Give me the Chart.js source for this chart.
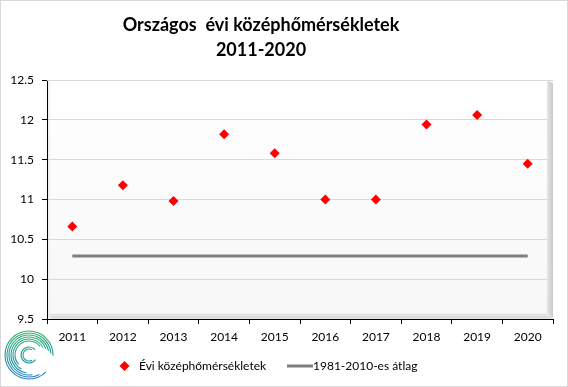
<!DOCTYPE html>
<html>
<head>
<meta charset="utf-8">
<script src="https://cdn.jsdelivr.net/npm/chart.js@4"></script>
<style>
  html, body { margin: 0; padding: 0; background: #fff; }
  canvas { display: block; }
</style>
</head>
<body>
<canvas id="tempChart" width="568" height="387"></canvas>
<script>
const years = ["2011", "2012", "2013", "2014", "2015", "2016", "2017", "2018", "2019", "2020"];
const annualMeans = [10.66, 11.18, 10.98, 11.82, 11.58, 11.0, 11.0, 11.94, 12.06, 11.45];
const normalMean = [10.29, 10.29, 10.29, 10.29, 10.29, 10.29, 10.29, 10.29, 10.29, 10.29];
const titleLines = ["Országos  évi középhőmérsékletek", "2011-2020"];
const seriesNames = ["Évi középhőmérsékletek", "1981-2010-es átlag"];

const FONT = "Lato, 'Open Sans', sans-serif";

// background, frame and the 3D wall behind the plot
const wallPlugin = {
  id: "wall",
  beforeDraw(chart) {
    const { ctx, chartArea: a } = chart;
    ctx.save();
    ctx.fillStyle = "#fff";
    ctx.fillRect(0, 0, chart.width, chart.height);
    ctx.strokeStyle = "#d9d9d9";
    ctx.lineWidth = 1;
    ctx.strokeRect(0.5, 0.5, chart.width - 1, chart.height - 1);

    const g = ctx.createLinearGradient(0, a.top, 0, a.bottom);
    g.addColorStop(0, "#ffffff");
    g.addColorStop(1, "#f7f7f7");
    ctx.fillStyle = g;
    ctx.fillRect(a.left, a.top, a.width, a.height);

    // soft shading along the left edge
    const gl = ctx.createLinearGradient(a.left, 0, a.left + 6, 0);
    gl.addColorStop(0, "#e4e4e4");
    gl.addColorStop(1, "rgba(255,255,255,0)");
    ctx.fillStyle = gl;
    ctx.fillRect(a.left, a.top, 6, a.height);
    ctx.restore();
  },
  beforeDatasetsDraw(chart) {
    const { ctx, chartArea: a } = chart;
    const d = 6;
    ctx.save();
    // right side
    const gr = ctx.createLinearGradient(a.right - d, 0, a.right, 0);
    gr.addColorStop(0, "#e6e6e6");
    gr.addColorStop(1, "#c9c9c9");
    ctx.fillStyle = gr;
    ctx.beginPath();
    ctx.moveTo(a.right - d, a.top);
    ctx.lineTo(a.right, a.top + 3);
    ctx.lineTo(a.right, a.bottom - 1);
    ctx.lineTo(a.right - d, a.bottom - d);
    ctx.closePath();
    ctx.fill();
    // floor
    const gb = ctx.createLinearGradient(0, a.bottom - d, 0, a.bottom);
    gb.addColorStop(0, "#efefef");
    gb.addColorStop(1, "#d2d2d2");
    ctx.fillStyle = gb;
    ctx.beginPath();
    ctx.moveTo(a.left + 1, a.bottom - d);
    ctx.lineTo(a.right - d, a.bottom - d);
    ctx.lineTo(a.right, a.bottom - 0.5);
    ctx.lineTo(a.left + 4, a.bottom - 0.5);
    ctx.closePath();
    ctx.fill();
    ctx.strokeStyle = "#d9d9d9";
    ctx.lineWidth = 1;
    ctx.beginPath();
    ctx.moveTo(a.left, a.top + 0.5);
    ctx.lineTo(a.right - d, a.top + 0.5);
    ctx.stroke();
    ctx.restore();
  },
  afterDraw(chart) {
    const ctx = chart.ctx;
    ctx.save();

    // title
    ctx.fillStyle = "#000";
    ctx.textAlign = "center";
    ctx.textBaseline = "middle";
    ctx.font = "bold 18px " + FONT;
    ctx.fillText(titleLines[0], 261, 25);
    ctx.fillText(titleLines[1], 261, 50);

    // legend
    ctx.font = "12px " + FONT;
    ctx.textAlign = "left";
    const ly = 366;
    const ds0 = chart.data.datasets[0];
    ctx.fillStyle = ds0.backgroundColor;
    ctx.beginPath();
    ctx.moveTo(124.5, ly - 5);
    ctx.lineTo(129.5, ly);
    ctx.lineTo(124.5, ly + 5);
    ctx.lineTo(119.5, ly);
    ctx.closePath();
    ctx.fill();
    ctx.fillStyle = "#000";
    ctx.fillText(ds0.label, 139, ly);

    const ds1 = chart.data.datasets[1];
    ctx.strokeStyle = ds1.borderColor;
    ctx.lineWidth = ds1.borderWidth;
    ctx.beginPath();
    ctx.moveTo(287, ly);
    ctx.lineTo(313, ly);
    ctx.stroke();
    ctx.fillText(ds1.label, 313, ly);

    // logo: a swirl of thin arcs
    const cx = 29, cy = 355;
    const lg = ctx.createLinearGradient(0, cy - 24, 0, cy + 24);
    lg.addColorStop(0, "#3bb46c");
    lg.addColorStop(0.5, "#1f9e98");
    lg.addColorStop(1, "#2a7fc4");
    ctx.strokeStyle = lg;
    ctx.lineWidth = 1.1;
    const arcs = [
      [24, 45, 362], [22, 62, 356], [20, 80, 348], [18, 98, 340],
      [16, 118, 332], [14, 138, 322], [8, 35, 320], [6, 60, 300]
    ];
    arcs.forEach(([r, s, e]) => {
      ctx.beginPath();
      ctx.arc(cx, cy, r, (s * Math.PI) / 180, (e * Math.PI) / 180);
      ctx.stroke();
    });
    ctx.restore();
  }
};

new Chart(document.getElementById("tempChart"), {
  type: "line",
  data: {
    labels: years,
    datasets: [
      {
        label: seriesNames[0],
        data: annualMeans,
        showLine: false,
        pointStyle: "rectRot",
        pointRadius: 5,
        pointHoverRadius: 5,
        backgroundColor: "#ff0000",
        borderColor: "#ff0000",
        pointBorderWidth: 0,
        order: 0,
      },
      {
        label: seriesNames[1],
        data: normalMean,
        borderColor: "#7f7f7f",
        borderWidth: 3,
        pointRadius: 0,
        fill: false,
        order: 1,
      },
    ],
  },
  options: {
    responsive: false,
    animation: false,
    layout: { padding: { top: 80, right: 15, bottom: 38, left: 0 } },
    plugins: {
      legend: { display: false },
      title: { display: false },
      tooltip: { enabled: false },
    },
    scales: {
      x: {
        offset: true,
        afterFit: (s) => { s.height = 30; },
        grid: { offset: true, drawOnChartArea: false, tickLength: 5, tickColor: "#000" },
        border: { color: "#000" },
        ticks: { color: "#000", font: { family: FONT, size: 12 }, padding: 6, maxRotation: 0 },
      },
      y: {
        min: 9.5,
        max: 12.5,
        afterFit: (s) => { s.width = 47; },
        grid: { color: "#d9d9d9", tickColor: "#000", tickLength: 5 },
        border: { color: "#000" },
        ticks: {
          stepSize: 0.5,
          color: "#000",
          font: { family: FONT, size: 12 },
          padding: 8,
          callback: (v) => String(v),
        },
      },
    },
  },
  plugins: [wallPlugin],
});
</script>
</body>
</html>
